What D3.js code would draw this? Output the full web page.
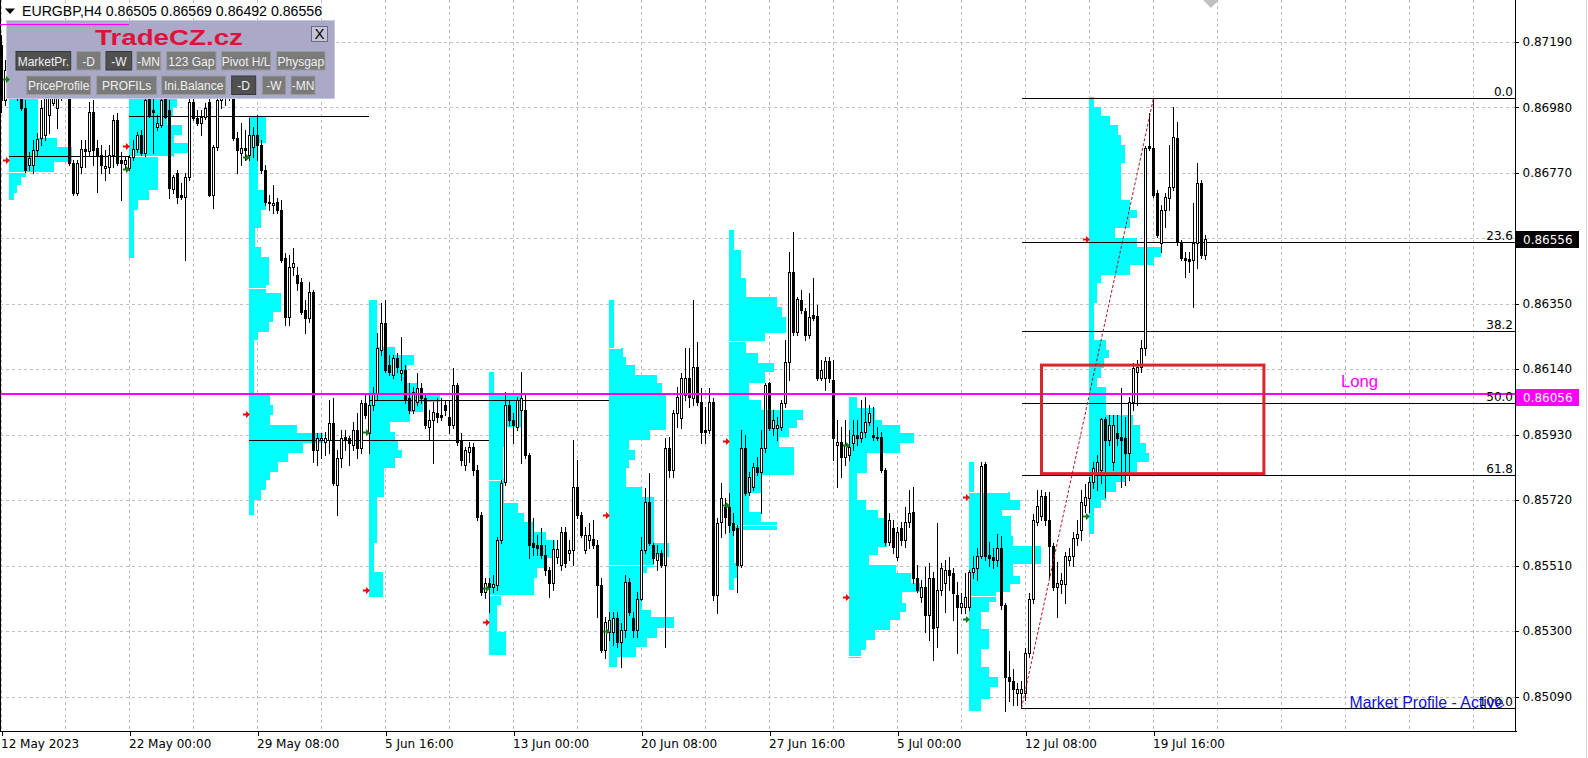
<!DOCTYPE html>
<html><head><meta charset="utf-8">
<script src="https://cdn.jsdelivr.net/npm/d3@7"></script>
<style>html,body{margin:0;padding:0;background:#fff;overflow:hidden}</style>
</head><body>
<svg id="c" width="1588" height="758" xmlns="http://www.w3.org/2000/svg"></svg>
<script>
// ---------------- DATA ----------------
const symbolTitle = "EURGBP,H4  0.86505 0.86569 0.86492 0.86556";
const open = [
.87180,.87003,.87100,.87052,.87084,.87019,.86977,.86795,.86795,.86843,
.86881,.86891,.86955,.86993,.86977,.87009,.87035,.87019,.86801,.86705,
.86789,.86846,.86840,.86965,.86849,.86827,.86785,.86789,.86827,.86939,
.86811,.86798,.86785,.86821,.86846,.86891,.86833,.87019,.86971,.86917,
.86923,.87009,.86971,.86718,.86769,.86699,.86693,.86757,.86997,.86945,
.86929,.86949,.86997,.86699,.86853,.87003,.87019,.87035,.87009,.86881,
.86833,.86849,.86827,.86853,.86891,.86859,.86779,.86677,.86667,.86677,
.86651,.86496,.86308,.86468,.86442,.86420,.86330,.86304,.86388,.85881,
.85913,.85907,.85913,.85967,.85769,.85855,.85923,.85919,.85897,.85945,
.85887,.86032,.85935,.86026,.86064,.86202,.86288,.86154,.86122,.86176,
.86128,.86138,.86048,.86010,.86036,.86080,.86048,.85955,.85977,.86000,
.85994,.86026,.85988,.85961,.86090,.85913,.85833,.85875,.85891,.85817,
.85673,.85426,.85454,.85442,.85448,.85593,.85779,.86026,.85977,.85955,
.86010,.86010,.85865,.85583,.85577,.85577,.85545,.85497,.85454,.85539,
.85513,.85619,.85551,.85561,.85763,.85673,.85561,.85593,.85596,.85577,
.85448,.85240,.85298,.85298,.85342,.85266,.85304,.85458,.85342,.85304,
.85403,.85561,.85715,.85577,.85529,.85551,.85513,.85887,.85817,.86000,
.85984,.86058,.86112,.86048,.86148,.86036,.85945,.85945,.86036,.85416,
.85651,.85699,.85699,.85647,.85631,.85513,.85887,.85747,.85763,.85827,
.85811,.85887,.86096,.85951,.85951,.85955,.86032,.86164,.86452,.86260,
.86362,.86327,.86250,.86314,.86311,.86112,.86112,.86167,.86106,.85897,
.85907,.85859,.85865,.85903,.85929,.85919,.85939,.85971,.85929,.85923,
.85923,.85817,.85587,.85631,.85539,.85631,.85593,.85651,.85683,.85471,
.85410,.85442,.85352,.85471,.85314,.85432,.85454,.85497,.85487,.85416,
.85378,.85378,.85378,.85491,.85503,.85542,.85836,.85545,.85539,.85529,
.85567,.85384,.85154,.85141,.85102,.85102,.85102,.85230,.85403,.85651,
.85670,.85734,.85657,.85574,.85442,.85451,.85451,.85529,.85542,.85599,
.85625,.85705,.85727,.85779,.85801,.85817,.85981,.85913,.85843,.85935,
.85923,.85919,.85871,.86036,.86132,.86148,.86208,.86856,.86849,.86705,
.86545,.86651,.86689,.86725,.86881,.86549,.86496,.86493,.86490,.86545,
.86737,.86505];
const high = [
.87212,.87132,.87148,.87116,.87132,.87068,.87003,.86837,.86875,.86897,
.87003,.87035,.87042,.87029,.87029,.87052,.87068,.87042,.86811,.86811,
.86875,.86875,.86997,.87003,.86875,.86859,.86843,.86859,.86955,.86961,
.86837,.86821,.86827,.86875,.86901,.86907,.87019,.87035,.87009,.86955,
.87019,.87029,.87003,.86763,.86779,.86737,.86769,.87009,.87019,.86971,
.86971,.86993,.87009,.86859,.87019,.87035,.87052,.87068,.87029,.86901,
.86929,.86907,.86945,.86917,.86955,.86875,.86795,.86699,.86731,.86689,
.86683,.86512,.86506,.86529,.86468,.86432,.86362,.86420,.86394,.85935,
.85935,.85939,.86042,.86048,.85881,.85945,.85945,.85926,.85971,.86000,
.86042,.86064,.86058,.86084,.86256,.86352,.86362,.86186,.86186,.86192,
.86244,.86154,.86096,.86084,.86128,.86096,.86064,.86010,.86036,.86048,
.86048,.86042,.86042,.86144,.86096,.85935,.85891,.85907,.85903,.85833,
.85683,.85471,.85471,.85481,.85603,.85785,.86068,.86042,.86000,.86052,
.86132,.86058,.85871,.85663,.85609,.85631,.85577,.85507,.85593,.85593,
.85635,.85635,.85593,.85913,.85849,.85683,.85635,.85647,.85657,.85593,
.85471,.85346,.85362,.85362,.85362,.85326,.85481,.85471,.85362,.85426,
.85603,.85759,.85807,.85583,.85577,.85561,.85919,.85923,.86010,.86084,
.86128,.86208,.86208,.86362,.86228,.86080,.86020,.86080,.86048,.85663,
.85775,.85727,.85743,.85679,.85641,.85945,.85929,.85811,.85839,.85859,
.85945,.86096,.86100,.86010,.85988,.86042,.86234,.86516,.86581,.86372,
.86394,.86336,.86384,.86432,.86346,.86170,.86180,.86180,.86170,.85977,
.85955,.85977,.85945,.85977,.85977,.86042,.86052,.86026,.86020,.85955,
.85939,.85823,.85679,.85657,.85635,.85651,.85699,.85753,.85763,.85513,
.85464,.85507,.85519,.85491,.85647,.85519,.85529,.85539,.85503,.85458,
.85422,.85487,.85497,.85542,.85567,.85843,.85843,.85587,.85567,.85612,
.85606,.85390,.85237,.85179,.85134,.85141,.85246,.85422,.85676,.85753,
.85753,.85747,.85747,.85583,.85523,.85487,.85555,.85567,.85619,.85657,
.85753,.85772,.85795,.85843,.85865,.85984,.85988,.85994,.85994,.85994,
.86080,.85988,.86052,.86160,.86170,.86234,.86856,.86961,.87008,.86715,
.86667,.86705,.86859,.86981,.86933,.86555,.86516,.86516,.86673,.86801,
.86747,.86569];
const low = [
.86965,.86987,.87019,.87009,.87003,.86971,.86773,.86779,.86769,.86827,
.86859,.86875,.86897,.86987,.86913,.87003,.87009,.86795,.86699,.86699,
.86769,.86789,.86827,.86795,.86709,.86769,.86747,.86769,.86789,.86795,
.86683,.86785,.86779,.86811,.86837,.86827,.86824,.86949,.86833,.86907,
.86917,.86945,.86689,.86705,.86673,.86686,.86490,.86747,.86939,.86923,
.86891,.86942,.86696,.86657,.86843,.86977,.86987,.87003,.86875,.86769,
.86795,.86811,.86811,.86821,.86811,.86769,.86667,.86651,.86641,.86641,
.86484,.86282,.86282,.86442,.86394,.86317,.86256,.86292,.85843,.85833,
.85855,.85865,.85871,.85769,.85673,.85827,.85881,.85833,.85881,.85855,
.85871,.85984,.85871,.86010,.86042,.86186,.86132,.86122,.86112,.86132,
.86106,.86032,.86000,.86000,.86026,.86032,.85951,.85913,.85839,.85971,
.85977,.85994,.85935,.85951,.85897,.85833,.85817,.85843,.85801,.85657,
.85416,.85406,.85362,.85426,.85432,.85583,.85769,.85961,.85903,.85945,
.85839,.85855,.85535,.85545,.85545,.85535,.85481,.85410,.85432,.85519,
.85497,.85507,.85529,.85513,.85663,.85603,.85551,.85567,.85567,.85346,
.85234,.85214,.85272,.85256,.85250,.85186,.85282,.85352,.85282,.85282,
.85400,.85551,.85577,.85519,.85497,.85507,.85250,.85795,.85795,.85955,
.85951,.86042,.86020,.86026,.86026,.85903,.85903,.85935,.85400,.85358,
.85603,.85615,.85619,.85609,.85426,.85507,.85737,.85737,.85753,.85801,
.85679,.85875,.85945,.85929,.85913,.85945,.86020,.86106,.86250,.86250,
.86320,.86234,.86240,.86298,.86106,.86106,.86074,.86100,.85849,.85763,
.85795,.85833,.85849,.85881,.85897,.85907,.85923,.85961,.85913,.85913,
.85811,.85577,.85577,.85551,.85529,.85577,.85571,.85635,.85454,.85426,
.85394,.85298,.85272,.85208,.85250,.85416,.85362,.85432,.85336,.85230,
.85358,.85358,.85368,.85471,.85464,.85535,.85529,.85510,.85503,.85510,
.85371,.85045,.85077,.85064,.85064,.85053,.85080,.85218,.85390,.85641,
.85657,.85641,.85475,.85432,.85346,.85422,.85390,.85513,.85510,.85577,
.85593,.85683,.85683,.85759,.85753,.85775,.85731,.85897,.85817,.85897,
.85763,.85769,.85785,.86010,.86026,.86132,.86186,.86843,.86693,.86564,
.86516,.86597,.86651,.86715,.86539,.86490,.86436,.86452,.86340,.86465,
.86496,.86492];
const close = [
.87003,.87100,.87052,.87084,.87019,.86977,.86779,.86817,.86843,.86878,
.86977,.87019,.87019,.87013,.87009,.87035,.87019,.86801,.86705,.86801,
.86846,.86840,.86965,.86843,.86827,.86795,.86792,.86827,.86939,.86801,
.86801,.86811,.86821,.86846,.86891,.86833,.87003,.86955,.86965,.86929,
.87003,.86949,.86721,.86757,.86693,.86693,.86757,.86997,.86945,.86929,
.86949,.86977,.86699,.86853,.87003,.87019,.87035,.87009,.86881,.86843,
.86849,.86843,.86891,.86891,.86859,.86779,.86677,.86673,.86673,.86651,
.86490,.86308,.86468,.86480,.86416,.86324,.86304,.86388,.85881,.85919,
.85919,.85919,.85967,.85775,.85855,.85919,.85913,.85903,.85945,.85887,
.86032,.85994,.86026,.86064,.86208,.86288,.86138,.86132,.86176,.86148,
.86138,.86042,.86010,.86068,.86080,.86048,.85961,.85977,.86004,.85988,
.85988,.86010,.85961,.86090,.85907,.85849,.85881,.85891,.85817,.85667,
.85426,.85454,.85442,.85451,.85593,.85775,.86026,.85977,.85961,.86042,
.86048,.85865,.85577,.85571,.85567,.85545,.85497,.85454,.85564,.85564,
.85619,.85519,.85561,.85763,.85673,.85609,.85609,.85609,.85577,.85448,
.85240,.85330,.85336,.85342,.85266,.85304,.85458,.85362,.85304,.85403,
.85561,.85715,.85583,.85535,.85551,.85513,.85887,.85817,.86000,.86052,
.86112,.86112,.86052,.86148,.86036,.85939,.85939,.86036,.85416,.85647,
.85727,.85667,.85641,.85625,.85513,.85887,.85743,.85795,.85827,.85811,
.85887,.86090,.85951,.85977,.85961,.86032,.86164,.86452,.86260,.86365,
.86330,.86250,.86308,.86304,.86112,.86138,.86167,.86112,.85919,.85907,
.85859,.85897,.85891,.85929,.85919,.85939,.85971,.86000,.85923,.85919,
.85817,.85587,.85657,.85571,.85619,.85593,.85651,.85679,.85471,.85432,
.85442,.85352,.85471,.85310,.85432,.85503,.85497,.85481,.85422,.85378,
.85390,.85410,.85491,.85503,.85542,.85830,.85542,.85535,.85529,.85567,
.85384,.85154,.85141,.85115,.85115,.85115,.85230,.85403,.85657,.85702,
.85734,.85657,.85574,.85442,.85454,.85464,.85542,.85542,.85599,.85612,
.85715,.85731,.85779,.85823,.85843,.85981,.85913,.85961,.85961,.85919,
.85913,.85871,.86036,.86144,.86148,.86208,.86849,.86849,.86699,.86571,
.86651,.86693,.86725,.86885,.86549,.86496,.86490,.86487,.86545,.86737,
.86506,.86556];

const priceTicks = [0.87190,0.86980,0.86770,0.86560,0.86350,0.86140,0.85930,0.85720,0.85510,0.85300,0.85090];
const dateTickBars = [0,32,64,96,128,160,192,224,256,288];
const dateTickLabels = ["12 May 2023","22 May 00:00","29 May 08:00","5 Jun 16:00","13 Jun 00:00","20 Jun 08:00","27 Jun 16:00","5 Jul 00:00","12 Jul 08:00","19 Jul 16:00"];

// weekly market profiles: week start bar, price level boundaries, TPO count per band
const profileBars = [2,32,62,92,122,152,182,212,242,272];
const profileLevels = [
 [.87035,.86881,.86853,.86805,.86773,.86757,.86731,.86705,.86683],
 [.87035,.86981,.86949,.86923,.86891,.86865,.86833,.86821,.86715,.86683,.86651,.86496],
 [.86952,.86865,.86715,.86651,.86593,.86533,.86500,.86410,.86384,.86324,.86292,.86260,.86234,.86058,.86026,.85994,.85961,.85935,.85903,.85871,.85843,.85811,.85785,.85753,.85721,.85673],
 [.86362,.86212,.86186,.86154,.86096,.86064,.86036,.86004,.85971,.85939,.85913,.85881,.85855,.85823,.85731,.85583,.85491,.85410],
 [.86132,.86058,.85955,.85891,.85791,.85711,.85679,.85651,.85619,.85593,.85535,.85503,.85471,.85416,.85384,.85298,.85224],
 [.86362,.86208,.86180,.86154,.86122,.86096,.86058,.85945,.85913,.85881,.85849,.85823,.85763,.85731,.85583,.85539,.85507,.85487,.85368,.85346,.85310,.85278,.85250,.85218,.85186],
 [.86587,.86522,.86432,.86372,.86340,.86308,.86256,.86228,.86192,.86160,.86132,.86096,.86042,.86010,.85977,.85951,.85923,.85891,.85801,.85743,.85683,.85651,.85625,.85519,.85471,.85432],
 [.86052,.86016,.85977,.85961,.85935,.85903,.85871,.85807,.85721,.85689,.85663,.85571,.85545,.85513,.85487,.85454,.85426,.85390,.85362,.85336,.85304,.85272,.85240,.85214],
 [.85843,.85747,.85721,.85689,.85670,.85606,.85574,.85514,.85476,.85450,.85424,.85392,.85360,.85308,.85243,.85186,.85154,.85122,.85083,.85045],
 [.87013,.86981,.86952,.86923,.86891,.86859,.86801,.86683,.86651,.86625,.86593,.86561,.86533,.86500,.86474,.86442,.86416,.86352,.86234,.86202,.86176,.86144,.86112,.86084,.85994,.85961,.85903,.85871,.85843,.85811,.85779,.85747,.85721,.85695,.85612]
];
const profileTpo = [
 [9.5,16,21,15,5.5,4,2.5,1.5],
 [16,14.5,12.5,17.5,15,19.5,15,9.5,6.5,3,1.5],
 [5.5,3,5.5,4,2,4,6.5,5.5,10.5,8,6.5,3,1.5,7,8,7,16,24.5,18,13,9.5,7,5.5,4,1.5],
 [2.5,8.5,15,12.5,16,23.5,18,13.5,7,8.5,9.5,11,8.5,5,2.5,1.5,4.5],
 [1.5,10.5,5,4.5,5,9.5,11.5,15,19,22,19,16,15,4,2.5,5.5],
 [1.5,4.5,5.5,8.5,16,17.5,19,13.5,6.5,8.5,6.5,5.5,11,15,20,15,12.5,11,14,21.5,16,12.5,9,2.5],
 [1.5,4,5.5,16,17.5,19,12,5.5,9.5,15,12,6.5,10.5,24.5,22.5,20,16.5,21.5,11,6.5,10.5,16,1.5,2.5,1.5],
 [2.5,8.5,11,17,21.5,17,6,2.5,5.5,9.5,12.5,9.5,6.5,15.5,20.5,23.5,17.5,19,17,13.5,8.5,5.5,4],
 [1.5,13.5,17,11,14,14.5,24,14.5,17,13.5,9,6.5,4,6.5,4,6.5,9.5,7,4],
 [1.5,4,7,9.5,10.5,12,10.5,13.5,16,13.5,8.5,16,24,21.5,13.5,4,2.5,1.5,5.5,6.5,5,4,2.5,5.5,14.5,17,19,20,16,12,9,5.5,4,1.5]
];
// value-area edge marks inside profiles (profile index, price, TPO length)
const vaProfile = [0,1,2,4,4,5,5,6,6,7,8,8];
const vaPrice   = [.86773,.86822,.86399,.85785,.85417,.86208,.85511,.86229,.85641,.85219,.85747,.85412];
const vaTpo     = [15,14.5,7,4.5,15,4,15,12,16,4,13,9.5];
// weekly POC lines: price, from bar, to bar
const pocPrice = [0.86822,0.86951,0.85913,0.86042];
const pocFrom  = [2,32,62,92];
const pocTo    = [32,92,122,152];
// weekly open markers
const redArrowPrice   = [.86811,.86854,.85997,.85432,.85330,.85673,.85910,.85410,.85731,.86558];
const greenArrowPrice = [.87071,.86781,.86821,.85939,.85438,.85301,.85705,.85897,.85339,.85670];
// fibonacci retracement
const fibLowBar = 255, fibHighBar = 288;
const fibLabels = ["0.0","23.6","38.2","50.0","61.8","100.0"];
const fibPrices = [0.87009,0.86547,0.86262,0.86031,0.85800,0.85053];
// levels
const longLevel = 0.86056, longLabel = "Long";
const lastPrice = 0.86556;
const topLevel = 0.87246, topLevelFrom = 0, topLevelTo = 32;
const zoneHigh = 0.86153, zoneLow = 0.85805, zoneFromBar = 260, zoneToBar = 315.6;
const panelTitle = "TradeCZ.cz";
const panelRow1 = ["MarketPr.","-D","-W","-MN","123 Gap","Pivot H/L","Physgap"];
const panelRow2 = ["PriceProfile","PROFILs","Ini.Balance","-D","-W","-MN"];
const statusText = "Market Profile - Active";

// ---------------- DRAW ----------------
const svg = d3.select('#c');
const PR = 1516, PB = 731;
const x = d3.scaleLinear().domain([0, 378.5]).range([1.5, 1515.5]);
const y = d3.scaleLinear().domain([0.85090, 0.87190]).range([696.6, 41.7]);
const tpoW = d3.scaleLinear().domain([0, 1]).range([0, 3]);
const FONT = "'DejaVu Sans', Verdana, sans-serif";
const AFONT = "'Liberation Sans', Arial, sans-serif";

svg.append('rect').attr('width',1588).attr('height',758).attr('fill','#fff');
svg.append('defs').append('clipPath').attr('id','plot').append('rect').attr('x',0).attr('y',0).attr('width',PR).attr('height',PB);
const plot = svg.append('g').attr('clip-path','url(#plot)');

// grid
const grid = plot.append('g').attr('stroke','#c0c0c0').attr('stroke-width',1).attr('stroke-dasharray','3,3').attr('shape-rendering','crispEdges');
grid.selectAll('line.h').data(priceTicks).join('line').attr('class','h')
  .attr('x1',0).attr('x2',PR).attr('y1',d=>Math.round(y(d))+0.5).attr('y2',d=>Math.round(y(d))+0.5);
grid.selectAll('line.v').data(d3.range(0, 378, 16)).join('line').attr('class','v')
  .attr('y1',0).attr('y2',PB).attr('x1',d=>Math.floor(x(d))+0.5).attr('x2',d=>Math.floor(x(d))+0.5);

// profiles
const prof = plot.append('g').attr('shape-rendering','crispEdges').attr('fill','#00ffff');
const profLeft = b => Math.round(x(b)-1);
profileBars.forEach((b,pi)=>{
  const left = profLeft(b);
  const lv = profileLevels[pi];
  prof.selectAll(null).data(profileTpo[pi]).join('rect')
    .attr('x',left)
    .attr('y',(d,k)=>Math.round(y(lv[k])))
    .attr('width',d=>Math.round(tpoW(d)))
    .attr('height',(d,k)=>Math.max(1,Math.round(y(lv[k+1]))-Math.round(y(lv[k])) ));
});
// value-area edge marks (white)
plot.append('g').attr('shape-rendering','crispEdges').selectAll('line').data(vaPrice).join('line')
  .attr('x1',(d,i)=>profLeft(profileBars[vaProfile[i]]))
  .attr('x2',(d,i)=>profLeft(profileBars[vaProfile[i]])+Math.round(tpoW(vaTpo[i])))
  .attr('y1',d=>Math.round(y(d))+0.5).attr('y2',d=>Math.round(y(d))+0.5)
  .attr('stroke','#ffffff').attr('stroke-width',1);

// POC lines
const lines = plot.append('g').attr('shape-rendering','crispEdges');
lines.selectAll('line.poc').data(pocPrice).join('line').attr('class','poc')
  .attr('x1',(d,i)=>Math.round(x(pocFrom[i])-1)).attr('x2',(d,i)=>Math.round(x(pocTo[i])-1))
  .attr('y1',d=>Math.round(y(d))+0.5).attr('y2',d=>Math.round(y(d))+0.5)
  .attr('stroke','#000').attr('stroke-width',1);

// fib lines
const fibX1 = Math.round(x(fibLowBar));
lines.selectAll('line.fib').data(fibPrices).join('line').attr('class','fib')
  .attr('x1',fibX1).attr('x2',PR).attr('y1',d=>Math.round(y(d))+0.5).attr('y2',d=>Math.round(y(d))+0.5)
  .attr('stroke','#000').attr('stroke-width',1);

// candles
const cg = plot.append('g').attr('shape-rendering','crispEdges');
const idx = d3.range(open.length);
cg.selectAll('rect.w').data(idx).join('rect').attr('class','w')
  .attr('x',i=>Math.floor(x(i))).attr('y',i=>Math.round(y(high[i])))
  .attr('width',1).attr('height',i=>Math.round(y(low[i]))-Math.round(y(high[i]))+1).attr('fill','#000');
cg.selectAll('rect.b').data(idx).join('rect').attr('class','b')
  .attr('x',i=>Math.floor(x(i))-1)
  .attr('y',i=>Math.round(y(Math.max(open[i],close[i]))))
  .attr('width',3)
  .attr('height',i=>Math.round(y(Math.min(open[i],close[i])))-Math.round(y(Math.max(open[i],close[i])))+1)
  .attr('fill','#000');
cg.selectAll('rect.bi').data(idx.filter(i=>close[i]>open[i] && Math.round(y(open[i]))-Math.round(y(close[i]))>=2)).join('rect').attr('class','bi')
  .attr('x',i=>Math.floor(x(i)))
  .attr('y',i=>Math.round(y(close[i]))+1)
  .attr('width',1)
  .attr('height',i=>Math.round(y(open[i]))-Math.round(y(close[i]))-1)
  .attr('fill','#fff');

// magenta level
plot.append('rect').attr('x',0).attr('width',PR).attr('y',Math.floor(y(longLevel))-2).attr('height',2).attr('fill','#ff00ff');

// zone rectangle
plot.append('rect').attr('x',x(zoneFromBar)).attr('y',y(zoneHigh)).attr('width',x(zoneToBar)-x(zoneFromBar)).attr('height',y(zoneLow)-y(zoneHigh))
  .attr('fill','none').attr('stroke','#d8262c').attr('stroke-width',3);

// fib trend line (dotted)
plot.append('line').attr('x1',x(fibLowBar)).attr('y1',y(fibPrices[5])).attr('x2',x(fibHighBar)).attr('y2',y(fibPrices[0]))
  .attr('stroke','#b0141c').attr('stroke-width',1).attr('stroke-dasharray','3,2');

// fib labels
plot.selectAll('text.fl').data(fibLabels).join('text').attr('class','fl')
  .attr('x',1513).attr('y',(d,i)=>Math.round(y(fibPrices[i]))-2)
  .attr('text-anchor','end').attr('font-family',FONT).attr('font-size',12).attr('fill','#000').text(d=>d);

// Long label
plot.append('text').attr('x',1341).attr('y',Math.round(y(longLevel))-8).attr('font-family',AFONT).attr('font-size',16)
  .attr('textLength',37).attr('lengthAdjust','spacingAndGlyphs').attr('fill','#ff00ff').text(longLabel);

// status text
plot.append('text').attr('x',1349.5).attr('y',707.5).attr('font-family',AFONT).attr('font-size',16)
  .attr('textLength',154).attr('lengthAdjust','spacingAndGlyphs').attr('fill','#1010e0').text(statusText);

// chart shift marker
svg.append('path').attr('d','M1203,0 L1219,0 L1211,8 Z').attr('fill','#c0c0c0');

// frame
const fr = svg.append('g').attr('stroke','#000').attr('stroke-width',1).attr('shape-rendering','crispEdges');
fr.append('line').attr('x1',0.5).attr('x2',0.5).attr('y1',0).attr('y2',PB+1);
fr.append('line').attr('x1',0).attr('x2',PR+1).attr('y1',PB+0.5).attr('y2',PB+0.5);
fr.append('line').attr('x1',PR-0.5).attr('x2',PR-0.5).attr('y1',0).attr('y2',PB+1);
svg.append('line').attr('x1',1586.5).attr('x2',1586.5).attr('y1',0).attr('y2',758).attr('stroke','#d4d4d4');

// right axis
const ax = svg.append('g').attr('transform',`translate(${PR-0.5},0)`)
  .call(d3.axisRight(y).tickValues(priceTicks).tickSize(3).tickPadding(4).tickFormat(d3.format('.5f')));
ax.select('.domain').remove();
ax.selectAll('.tick line').attr('stroke','#000').attr('shape-rendering','crispEdges');
ax.selectAll('.tick text').attr('font-family',FONT).attr('font-size',12).attr('fill','#000');

// bottom axis
const bx = svg.append('g').attr('transform',`translate(0,${PB})`)
  .call(d3.axisBottom(x).tickValues(dateTickBars).tickSize(5).tickFormat((d,i)=>dateTickLabels[i]));
bx.select('.domain').remove();
bx.selectAll('.tick line').attr('stroke','#000').attr('shape-rendering','crispEdges');
bx.selectAll('.tick text').attr('font-family',FONT).attr('font-size',12).attr('fill','#000')
  .attr('text-anchor','start').attr('x',-1).attr('y',16.5).attr('dy',0);

// price boxes
function priceBox(p, bg, dy){
  const yc = Math.round(y(p))+dy;
  svg.append('rect').attr('x',PR).attr('y',yc-8).attr('width',63).attr('height',17).attr('fill',bg);
  svg.append('text').attr('x',PR+7).attr('y',yc+4.5).attr('font-family',FONT).attr('font-size',12).attr('fill','#fff').text(d3.format('.5f')(p));
}
priceBox(lastPrice,'#000',0);
priceBox(longLevel,'#ff00ff',2);

// title
svg.append('path').attr('d','M5,8.5 L15,8.5 L10,14 Z').attr('fill','#000');
svg.append('text').attr('x',22).attr('y',16).attr('font-family',AFONT).attr('font-size',14)
  .attr('textLength',300).attr('lengthAdjust','spacingAndGlyphs').attr('fill','#000').text(symbolTitle);

// panel
const pn = svg.append('g');
pn.append('rect').attr('x',6.5).attr('y',20.5).attr('width',328).attr('height',78).attr('fill','#aaaac8').attr('stroke','#c8c8dc');
pn.append('text').attr('x',95).attr('y',44.5).attr('font-family',AFONT).attr('font-weight','bold').attr('font-size',22)
  .attr('textLength',148).attr('lengthAdjust','spacingAndGlyphs').attr('fill','#dc143c').text(panelTitle);
pn.append('rect').attr('x',311.5).attr('y',26.5).attr('width',16).attr('height',15).attr('fill','#c4c4d8').attr('stroke','#6a6a80');
pn.append('text').attr('x',319.5).attr('y',39).attr('text-anchor','middle').attr('font-family',AFONT).attr('font-size',15).attr('fill','#000').text('X');
const row1X = [[16,70.7],[76.7,100.7],[106,131.7],[136.7,160.7],[166.7,216],[221.7,270.7],[276.7,325]];
const row2X = [[26.7,90.7],[96.7,156.7],[161.7,225.7],[231.7,255.7],[262.3,285.7],[291,315]];
const pressed1 = [true,false,true,false,false,false,false];
const pressed2 = [false,false,false,true,false,false];
function buttons(labels, xs, pressed, y0, y1){
  labels.forEach((t,i)=>{
    const [a,b] = xs[i];
    pn.append('rect').attr('x',a).attr('y',y0).attr('width',b-a).attr('height',y1-y0)
      .attr('fill',pressed[i]?'#505050':'#7a7a7a').attr('stroke',pressed[i]?'#383838':'#9a9a9a');
    pn.append('text').attr('x',(a+b)/2).attr('y',y1-4.5).attr('text-anchor','middle').attr('font-family',AFONT).attr('font-size',12)
      .attr('fill','#f0f0f0').text(t);
  });
}
buttons(panelRow1,row1X,pressed1,51.5,70);
buttons(panelRow2,row2X,pressed2,76,94.5);

// top magenta level (drawn over panel)
svg.append('line').attr('x1',x(topLevelFrom)-1.5).attr('x2',x(topLevelTo)-1).attr('y1',Math.round(y(topLevel))+0.5).attr('y2',Math.round(y(topLevel))+0.5)
  .attr('stroke','#ff00ff').attr('stroke-width',1).attr('shape-rendering','crispEdges');

// week open arrows
function arrow(xt, yc, col){
  svg.append('path').attr('d',`M${xt-6},${yc-1} L${xt-3},${yc-1} L${xt-3},${yc-3.5} L${xt+1},${yc} L${xt-3},${yc+3.5} L${xt-3},${yc+1} L${xt-6},${yc+1} Z`).attr('fill',col);
}
profileBars.forEach((b,i)=>{
  const xt = Math.round(x(b)-1);
  arrow(xt, Math.round(y(redArrowPrice[i]))+0.5, '#ff0000');
  arrow(xt, Math.round(y(greenArrowPrice[i]))+0.5, '#1a7a1a');
});
</script>
</body></html>
